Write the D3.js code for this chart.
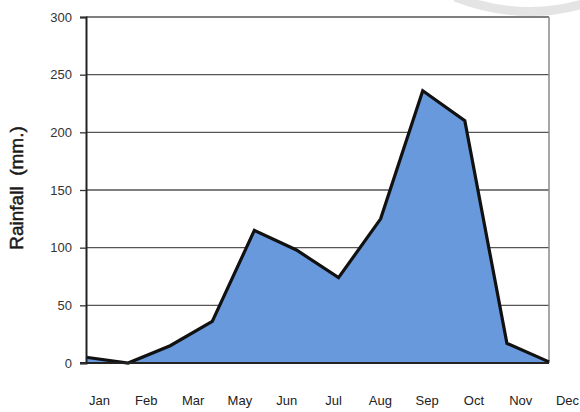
<!DOCTYPE html>
<html>
<head>
<meta charset="utf-8">
<script src="https://cdn.jsdelivr.net/npm/d3@7"></script>
<style>
  html, body { margin: 0; padding: 0; background: #fff; }
  svg { display: block; font-family: "Liberation Sans", Arial, sans-serif; }
</style>
</head>
<body>
<svg id="chart" width="580" height="412"></svg>
<script>
// Data
const months = ["Jan","Feb","Mar","Apr","May","Jun","Jul","Aug","Sep","Oct","Nov","Dec"];
const rainfall = [5, 0, 15, 36, 115, 98, 74, 125, 236, 210, 17, 1];
// Axis labels as printed (note: "Apr" is absent in the original)
const xLabels = ["Jan","Feb","Mar","May","Jun","Jul","Aug","Sep","Oct","Nov","Dec"];
const yTicks = [0, 50, 100, 150, 200, 250, 300];
const yTitle = "Rainfall  (mm.)";

(function () {
const svg = d3.select("#chart");
const pLeft = 86, pRight = 549, pTop = 17, pBottom = 363;

// decorative scan artefact arc in top right
svg.append("path")
  .attr("d", "M455,-3 Q525,24 592,1")
  .attr("fill", "none")
  .attr("stroke", "#e4e4e4")
  .attr("stroke-width", 9);

const x = d3.scalePoint().domain(months).range([pLeft, pRight]);
const y = d3.scaleLinear().domain([0, 300]).range([pBottom, pTop]);
const xl = d3.scalePoint().domain(xLabels).range([99, 567]);

// gridlines
svg.append("g").selectAll("line").data(yTicks.filter(d => d > 0)).join("line")
  .attr("x1", pLeft).attr("x2", pRight)
  .attr("y1", d => y(d)).attr("y2", d => y(d))
  .attr("stroke", "#555").attr("stroke-width", 1.3);

// right border
svg.append("line")
  .attr("x1", pRight).attr("x2", pRight).attr("y1", pTop).attr("y2", pBottom)
  .attr("stroke", "#8a8a8a").attr("stroke-width", 1.5);

// area
const area = d3.area().x((d, i) => x(months[i])).y0(y(0)).y1(d => y(d));
svg.append("path").datum(rainfall)
  .attr("d", area)
  .attr("fill", "#6899dc");

const line = d3.line().x((d, i) => x(months[i])).y(d => y(d));
svg.append("path").datum(rainfall)
  .attr("d", line)
  .attr("fill", "none")
  .attr("stroke", "#111")
  .attr("stroke-width", 3.2)
  .attr("stroke-linejoin", "miter");

// baseline
svg.append("line")
  .attr("x1", pLeft - 6).attr("x2", pRight).attr("y1", y(0)).attr("y2", y(0))
  .attr("stroke", "#222").attr("stroke-width", 2);

// y axis
const yAxis = d3.axisLeft(y).tickValues(yTicks).tickSize(6).tickPadding(8);
const gy = svg.append("g").attr("transform", `translate(${pLeft},0)`).call(yAxis);
gy.select(".domain").attr("stroke", "#222").attr("stroke-width", 2);
gy.selectAll(".tick line").attr("stroke", "#333").attr("stroke-width", 1.3);
gy.selectAll(".tick text").attr("fill", "#333").attr("font-size", 13)
  .attr("font-family", "'Liberation Sans', Arial, sans-serif");

// x labels
const xAxis = d3.axisBottom(xl).tickSize(0).tickPadding(0);
const gx = svg.append("g").attr("transform", `translate(0,396)`).call(xAxis);
gx.select(".domain").remove();
gx.selectAll(".tick text").attr("fill", "#222").attr("font-size", 13)
  .attr("font-family", "'Liberation Sans', Arial, sans-serif");

// y title
svg.append("text")
  .attr("transform", "translate(23,188) rotate(-90)")
  .attr("text-anchor", "middle")
  .attr("font-size", 19)
  .attr("fill", "#1a1a1a")
  .attr("stroke", "#1a1a1a")
  .attr("stroke-width", 0.5)
  .attr("style", "white-space: pre")
  .text(yTitle);
})();
</script>
</body>
</html>
